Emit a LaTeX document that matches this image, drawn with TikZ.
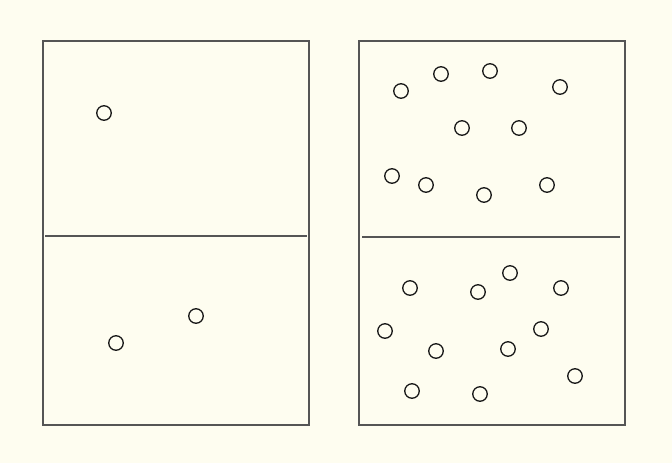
\documentclass[tikz,border=0pt]{standalone}
\definecolor{bg}{HTML}{FEFDF0}
\definecolor{frame}{HTML}{555555}
\begin{document}
\begin{tikzpicture}[x=1pt,y=-1pt,
  box/.style={draw=frame,line width=1.4pt},
  divider/.style={draw=frame,line width=1.4pt},
  ball/.style={circle,draw=black!90,line width=1.3pt,minimum size=14.5pt,inner sep=0pt}]
\fill[bg] (0,0) rectangle (672,463);
\useasboundingbox (0,0) rectangle (672,463);
\draw[box] (43,41) rectangle (309,425);
\draw[divider] (45,236) -- (307,236);
\draw[box] (359,41) rectangle (625,425);
\draw[divider] (362,237) -- (620,237);
\foreach \p [count=\i] in {(104,113),(196,316),(116,343),
 (401,91),(441,74),(490,71),(560,87),(462,128),(519,128),(392,176),(426,185),(484,195),(547,185),
 (410,288),(478,292),(510,273),(561,288),(385,331),(436,351),(508,349),(541,329),(575,376),(412,391),(480,394)}
  \node[ball] (b\i) at \p {};
\end{tikzpicture}
\end{document}
